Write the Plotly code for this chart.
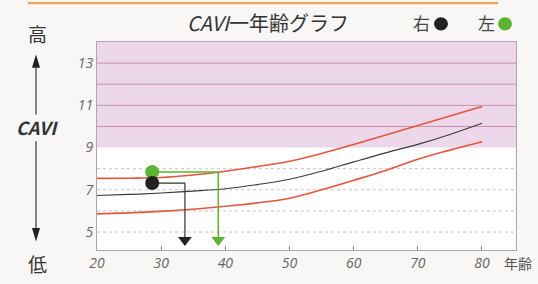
import plotly.graph_objects as go

ages = [20, 25, 30, 35, 40, 45, 50, 55, 60, 65, 70, 75, 80]
upper = [7.54, 7.55, 7.58, 7.7, 7.88, 8.1, 8.35, 8.72, 9.15, 9.6, 10.05, 10.5, 10.95]
middle = [6.73, 6.78, 6.85, 6.94, 7.05, 7.25, 7.5, 7.88, 8.32, 8.75, 9.15, 9.62, 10.15]
lower = [5.86, 5.91, 5.98, 6.08, 6.22, 6.38, 6.6, 7.0, 7.45, 7.92, 8.45, 8.88, 9.28]

right_age, right_cavi, right_drop = 28.6, 7.32, 33.7
left_age, left_cavi, left_drop = 28.6, 7.84, 38.9
arrow_y = 4.62

x_ticks = [20, 30, 40, 50, 60, 70, 80]
y_ticks = [5, 7, 9, 11, 13]
X0, X1, Y0, Y1 = 20, 85.3, 4.15, 14.0

W, H = 538, 284
L, R, T, B = 97, 22, 42, 24
PW, PH = W - L - R, H - T - B

def px(x):
    return (x - L) / PW

def py(y):
    return (H - B - y) / PH

JP = "Noto Sans CJK JP"
fig = go.Figure()

fig.add_trace(go.Scatter(x=ages, y=upper, mode="lines", line=dict(color="#e8553a", width=1.6, shape="spline"), hoverinfo="skip"))
fig.add_trace(go.Scatter(x=ages, y=middle, mode="lines", line=dict(color="#3a3a3a", width=1.2, shape="spline"), hoverinfo="skip"))
fig.add_trace(go.Scatter(x=ages, y=lower, mode="lines", line=dict(color="#e8553a", width=1.6, shape="spline"), hoverinfo="skip"))

# drop lines
fig.add_trace(go.Scatter(x=[right_age, right_drop, right_drop], y=[right_cavi, right_cavi, arrow_y],
                         mode="lines", line=dict(color="#333333", width=1.2), hoverinfo="skip"))
fig.add_trace(go.Scatter(x=[left_age, left_drop, left_drop], y=[left_cavi, left_cavi, arrow_y],
                         mode="lines", line=dict(color="#5cb52e", width=1.5), hoverinfo="skip"))
fig.add_trace(go.Scatter(x=[right_drop], y=[arrow_y], mode="markers",
                         marker=dict(symbol="triangle-down", size=12, color="#222222"), hoverinfo="skip"))
fig.add_trace(go.Scatter(x=[left_drop], y=[arrow_y], mode="markers",
                         marker=dict(symbol="triangle-down", size=12, color="#5cb52e"), hoverinfo="skip"))
fig.add_trace(go.Scatter(x=[left_age], y=[left_cavi], mode="markers",
                         marker=dict(size=14, color="#5cb52e"), hoverinfo="skip"))
fig.add_trace(go.Scatter(x=[right_age], y=[right_cavi], mode="markers",
                         marker=dict(size=14, color="#222222"), hoverinfo="skip"))

shapes = []
# pink zone
shapes.append(dict(type="rect", xref="x", yref="y", x0=X0, x1=X1, y0=9, y1=Y1,
                   fillcolor="#ecd8ea", line=dict(width=0), layer="below"))
for v in [10, 11, 12, 13]:
    shapes.append(dict(type="line", xref="x", yref="y", x0=X0, x1=X1, y0=v, y1=v,
                       line=dict(color="#c98fb0", width=1), layer="below"))
for v in [5, 6, 7, 8]:
    shapes.append(dict(type="line", xref="x", yref="y", x0=X0, x1=X1, y0=v, y1=v,
                       line=dict(color="#c4c4c4", width=1, dash="dot"), layer="below"))
# top orange bar
shapes.append(dict(type="rect", xref="paper", yref="paper", x0=px(28), x1=px(498), y0=py(0), y1=py(2.5),
                   fillcolor="#f2a45a", line=dict(width=0)))
# left arrows
ax = 36
shapes.append(dict(type="line", xref="paper", yref="paper", x0=px(ax), x1=px(ax), y0=py(118), y1=py(66),
                   line=dict(color="#333", width=1.2)))
shapes.append(dict(type="path", xref="paper", yref="paper",
                   path=f"M {px(ax-4)} {py(69)} L {px(ax+4)} {py(69)} L {px(ax)} {py(55)} Z",
                   fillcolor="#222", line=dict(width=0)))
shapes.append(dict(type="line", xref="paper", yref="paper", x0=px(ax), x1=px(ax), y0=py(146), y1=py(240),
                   line=dict(color="#333", width=1.2)))
shapes.append(dict(type="path", xref="paper", yref="paper",
                   path=f"M {px(ax-4)} {py(237)} L {px(ax+4)} {py(237)} L {px(ax)} {py(251)} Z",
                   fillcolor="#222", line=dict(width=0)))
# legend dots
for cx, col in [(441, "#222222"), (505, "#5cb52e")]:
    r = 7
    shapes.append(dict(type="circle", xref="paper", yref="paper", x0=px(cx - r), x1=px(cx + r),
                       y0=py(23 + r), y1=py(23 - r), fillcolor=col, line=dict(width=0)))

ann = []
def txt(x, y, s, size, color="#333", xanchor="center", style="normal", weight="normal"):
    ann.append(dict(xref="paper", yref="paper", x=px(x), y=py(y), text=s, showarrow=False,
                    xanchor=xanchor, yanchor="middle",
                    font=dict(family=JP, size=size, color=color, style=style, weight=weight)))

txt(268, 22, "<i>CAVI</i>一年齢グラフ", 20, "#333")
txt(421, 22, "右", 17, "#444")
txt(486, 22, "左", 17, "#444")
txt(37, 33, "高", 19, "#333")
txt(37, 274, "低", 19, "#333")
txt(37, 131, "<b><i>CAVI</i></b>", 18, "#333")
txt(518, 274, "年齢", 14, "#555")

fig.update_layout(
    width=W, height=H, margin=dict(l=L, r=R, t=T, b=B),
    paper_bgcolor="#f8f7f5", plot_bgcolor="#ffffff",
    showlegend=False, shapes=shapes, annotations=ann,
    xaxis=dict(range=[X0, X1], tickvals=x_ticks, showgrid=False, zeroline=False,
               showline=True, linecolor="#a8a8b0", mirror=True, ticks="inside", ticklen=4,
               tickcolor="#7f8fc0",
               tickfont=dict(family="Open Sans", size=14, color="#666", style="italic")),
    yaxis=dict(range=[Y0, Y1], tickvals=y_ticks, showgrid=False, zeroline=False,
               showline=True, linecolor="#a8a8b0", mirror=True, ticks="",
               tickfont=dict(family="Open Sans", size=14, color="#666", style="italic")),
)

fig.write_html("out.html", config={"displayModeBar": False},
               post_script="document.body.style.margin='0';document.body.style.overflow='hidden';")
